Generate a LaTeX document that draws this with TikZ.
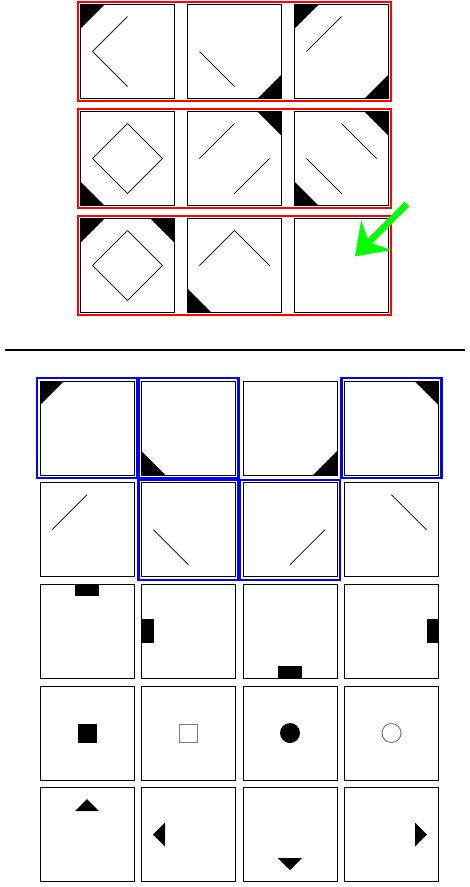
\documentclass[tikz,border=0pt]{standalone}
\usetikzlibrary{arrows.meta}
\tikzset{
  cellframe/.style={draw=black, line width=1pt},
  seg/.style={draw=black!85, line width=0.9pt},
  redframe/.style={draw=red, line width=2.4pt},
  blueframe/.style={draw=blue, line width=2.4pt},
  sepline/.style={draw=black, line width=2pt},
  greenarrow/.style={draw=green, line width=6.5pt, -{Stealth[length=30pt,width=42pt,inset=10pt]}},
  hollow/.style={draw=black!50, line width=1pt}
}
% corner triangles
\newcommand{\cTL}{\fill[black] (0,0) -- (24,0) -- (0,24) -- cycle;}
\newcommand{\cTR}{\fill[black] (94,0) -- (70,0) -- (94,24) -- cycle;}
\newcommand{\cBL}{\fill[black] (0,94) -- (24,94) -- (0,70) -- cycle;}
\newcommand{\cBR}{\fill[black] (94,94) -- (70,94) -- (94,70) -- cycle;}
% diamond edges
\newcommand{\eTL}{\draw[seg] (12,47) -- (47,12);}
\newcommand{\eLB}{\draw[seg] (12,47) -- (47,82);}
\newcommand{\eBR}{\draw[seg] (47,82) -- (82,47);}
\newcommand{\eRT}{\draw[seg] (82,47) -- (47,12);}
\newcommand{\cellbox}{\draw[cellframe] (0,0) rectangle (94,94);}
\newcommand{\bframe}{\draw[blueframe] (-3,-3) rectangle (97,97);}
\begin{document}
\begin{tikzpicture}[x=1pt,y=-1pt]
\useasboundingbox (0,0) rectangle (470,887);
\fill[white] (0,0) rectangle (470,887);

% ---------- top matrix ----------
% row 1
\begin{scope}[shift={(80.5,4.5)}] \cTL \eTL \eLB \cellbox \end{scope}
\begin{scope}[shift={(187.5,4.5)}] \cBR \eLB \cellbox \end{scope}
\begin{scope}[shift={(294.5,4.5)}] \cTL \cBR \eTL \cellbox \end{scope}
\draw[redframe] (78,2) rectangle (391,101);
% row 2
\begin{scope}[shift={(80.5,111.5)}] \cBL \eTL \eLB \eBR \eRT \cellbox \end{scope}
\begin{scope}[shift={(187.5,111.5)}] \cTR \eTL \eBR \cellbox \end{scope}
\begin{scope}[shift={(294.5,111.5)}] \cTR \cBL \eRT \eLB \cellbox \end{scope}
\draw[redframe] (78,109) rectangle (391,208);
% row 3
\begin{scope}[shift={(80.5,218.5)}] \cTL \cTR \eTL \eLB \eBR \eRT \cellbox \end{scope}
\begin{scope}[shift={(187.5,218.5)}] \cBL \eTL \eRT \cellbox \end{scope}
\begin{scope}[shift={(294.5,218.5)}] \cellbox \end{scope}
\draw[redframe] (78,216) rectangle (391,315);

% green arrow
\coordinate (arrowtail) at (407,204);
\coordinate (arrowtip) at (355,256.5);
\draw[greenarrow] (arrowtail) -- (arrowtip);

% separator
\coordinate (sepL) at (5,350);
\coordinate (sepR) at (465,350);
\draw[sepline] (sepL) -- (sepR);

% ---------- answer options ----------
% row 1
\begin{scope}[shift={(40,381)}] \cTL \cellbox \bframe \end{scope}
\begin{scope}[shift={(141.5,381)}] \cBL \cellbox \bframe \end{scope}
\begin{scope}[shift={(243,381)}] \cBR \cellbox \end{scope}
\begin{scope}[shift={(344.5,381)}] \cTR \cellbox \bframe \end{scope}
% row 2
\begin{scope}[shift={(40,482.7)}] \eTL \cellbox \end{scope}
\begin{scope}[shift={(141.5,482.7)}] \eLB \cellbox \bframe \end{scope}
\begin{scope}[shift={(243,482.7)}] \eBR \cellbox \bframe \end{scope}
\begin{scope}[shift={(344.5,482.7)}] \eRT \cellbox \end{scope}
% row 3
\begin{scope}[shift={(40,584.3)}] \fill[black] (35,0) rectangle (59,12); \cellbox \end{scope}
\begin{scope}[shift={(141.5,584.3)}] \fill[black] (0,35) rectangle (12,59); \cellbox \end{scope}
\begin{scope}[shift={(243,584.3)}] \fill[black] (35,82) rectangle (59,94); \cellbox \end{scope}
\begin{scope}[shift={(344.5,584.3)}] \fill[black] (82,35) rectangle (94,59); \cellbox \end{scope}
% row 4
\begin{scope}[shift={(40,686)}] \fill[black] (37.5,37.5) rectangle (56.5,56.5); \cellbox \end{scope}
\begin{scope}[shift={(141.5,686)}] \draw[hollow] (38,38) rectangle (56,56); \cellbox \end{scope}
\begin{scope}[shift={(243,686)}] \fill[black] (47,47) circle (10); \cellbox \end{scope}
\begin{scope}[shift={(344.5,686)}] \draw[hollow] (47,47) circle (9.5); \cellbox \end{scope}
% row 5
\begin{scope}[shift={(40,787.7)}] \fill[black] (47,11.5) -- (59,23.5) -- (35,23.5) -- cycle; \cellbox \end{scope}
\begin{scope}[shift={(141.5,787.7)}] \fill[black] (11.5,47) -- (23.5,35) -- (23.5,59) -- cycle; \cellbox \end{scope}
\begin{scope}[shift={(243,787.7)}] \fill[black] (47,82.5) -- (35,70.5) -- (59,70.5) -- cycle; \cellbox \end{scope}
\begin{scope}[shift={(344.5,787.7)}] \fill[black] (82.5,47) -- (70.5,35) -- (70.5,59) -- cycle; \cellbox \end{scope}
\end{tikzpicture}
\end{document}
